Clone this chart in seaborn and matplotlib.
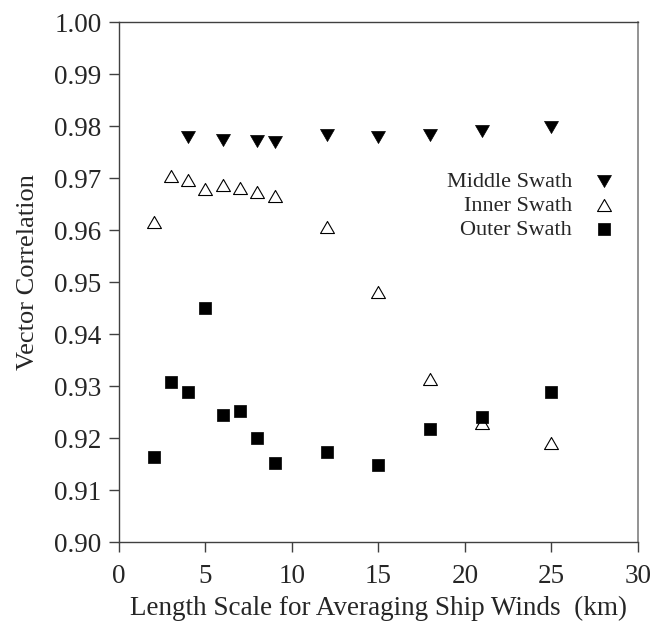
import matplotlib
matplotlib.use('Agg')
import matplotlib.pyplot as plt
import seaborn as sns
import pandas as pd

# averaging length scale (km)
middle_x = [4, 6, 8, 9, 12, 15, 18, 21, 25]
middle_y = [0.9779, 0.9773, 0.9771, 0.9769, 0.9783, 0.9779, 0.9783, 0.9792, 0.9799]

inner_x = [2, 3, 4, 5, 6, 7, 8, 9, 12, 15, 18, 21, 25]
inner_y = [0.9615, 0.9705, 0.9697, 0.9679, 0.9687, 0.9681, 0.9674, 0.9666,
           0.9607, 0.9482, 0.9313, 0.9229, 0.9190]

outer_x = [2, 3, 4, 5, 6, 7, 8, 9, 12, 15, 18, 21, 25]
outer_y = [0.9163, 0.9308, 0.9288, 0.9450, 0.9244, 0.9253, 0.9200, 0.9152,
           0.9174, 0.9149, 0.9218, 0.9240, 0.9289]

middle = pd.DataFrame({'km': middle_x, 'corr': middle_y})
inner = pd.DataFrame({'km': inner_x, 'corr': inner_y})
outer = pd.DataFrame({'km': outer_x, 'corr': outer_y})

# equilateral triangles (flatter than matplotlib's default ^ / v), closed paths
tri_up = [(-1, -0.866), (1, -0.866), (0, 0.866), (-1, -0.866)]
tri_down = [(-1, 0.866), (1, 0.866), (0, -0.866), (-1, 0.866)]

sns.set_style('ticks')
plt.rcParams['font.family'] = ['Liberation Serif', 'DejaVu Serif']

fig = plt.figure(figsize=(6.65, 6.23), dpi=100)
ax = fig.add_axes([0.179, 0.130, 0.780, 0.834])

sns.scatterplot(data=middle, x='km', y='corr', ax=ax, marker=tri_down, s=100,
                color='black', edgecolor='black', linewidth=0.5,
                label='Middle Swath')
sns.scatterplot(data=inner, x='km', y='corr', ax=ax, marker=tri_up, s=100,
                facecolor='white', edgecolor='black', linewidth=0.8,
                label='Inner Swath')
sns.scatterplot(data=outer, x='km', y='corr', ax=ax, marker='s', s=76,
                color='black', edgecolor='black', linewidth=0.5,
                label='Outer Swath')

ax.set_xlim(0, 30)
ax.set_ylim(0.90, 1.00)
ax.set_xticks(range(0, 31, 5))
ax.set_yticks([0.90 + 0.01 * i for i in range(11)])
ax.set_yticklabels(['%.2f' % (0.90 + 0.01 * i) for i in range(11)])

ax.tick_params(axis='both', direction='out', length=7.5, width=1,
               color='#404040', labelsize=19.5)
ax.tick_params(axis='y', pad=5)
ax.tick_params(axis='x', pad=8.5)

for side in ['left', 'bottom', 'top']:
    ax.spines[side].set_visible(True)
    ax.spines[side].set_color('#404040')
    ax.spines[side].set_linewidth(1.0)
ax.spines['right'].set_visible(True)
ax.spines['right'].set_color('#808080')
ax.spines['right'].set_linewidth(1.2)

ax.set_xlabel('Length Scale for Averaging Ship Winds  (km)', fontsize=19.5, labelpad=5)
ax.set_ylabel('Vector Correlation', fontsize=19)
ax.yaxis.set_label_coords(-0.154, 0.519)

ax.legend(loc='upper left', bbox_to_anchor=(0.632, 0.713), frameon=False,
          markerfirst=False, fontsize=16, labelspacing=0.15, markerscale=1.0,
          handletextpad=0.69, borderpad=0, borderaxespad=0, handlelength=1.5)

fig.savefig('out.png', dpi=100)
